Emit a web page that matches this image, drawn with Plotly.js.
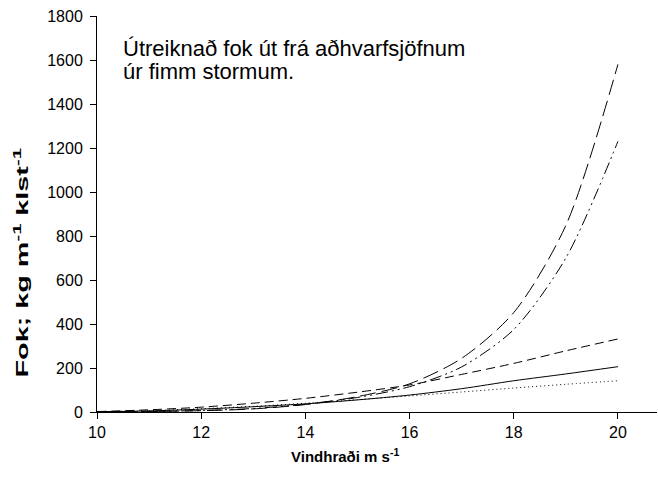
<!DOCTYPE html>
<html>
<head>
<meta charset="utf-8">
<script src="https://cdn.plot.ly/plotly-3.0.1.min.js"></script>
<style>
  html, body { margin: 0; padding: 0; background: #fff; }
  #chart { width: 658px; height: 479px; }
</style>
</head>
<body>
<div id="chart"></div>
<script>
// Wind speed (m/s)
const windSpeed = [10, 11, 12, 13, 14, 15, 16, 17, 18, 19, 20];

// Drift (kg m-1 h-1) from the regression equations of five storms
const stormLongDash   = [0.5, 2, 6, 14, 34, 70, 128, 244, 452, 848, 1580];
const stormDashDotDot = [0.5, 2, 7, 16, 35, 66, 115, 205, 375, 700, 1230];
const stormDash       = [2, 10, 22, 40, 62, 90, 123, 171, 221, 278, 332];
const stormSolid      = [1, 5, 13, 24, 37, 55, 77, 106, 142, 173, 206];
const stormDotted     = [1, 6, 15, 26, 40, 56, 73, 91, 109, 126, 142];

const xTicks = [10, 12, 14, 16, 18, 20];
const yTicks = [0, 200, 400, 600, 800, 1000, 1200, 1400, 1600, 1800];

function curve(y, dash) {
  return {
    x: windSpeed, y: y, type: 'scatter', mode: 'lines',
    line: { color: '#000', width: 1, dash: dash, shape: 'spline', smoothing: 0.8 },
    hoverinfo: 'skip'
  };
}

const data = [
  curve(stormDotted, '1px,3px'),
  curve(stormSolid, 'solid'),
  curve(stormDash, '9px,5px'),
  curve(stormDashDotDot, '12px,4px,2px,4px,2px,4px'),
  curve(stormLongDash, '16px,6px')
];

const font = 'Arial, "Liberation Sans", sans-serif';
const yTitleText = '<b>Fok; kg m<sup>-1</sup> klst<sup>-1</sup></b>';

const layout = {
  width: 658, height: 479,
  margin: { l: 97, r: 1, t: 16, b: 67 },
  paper_bgcolor: '#fff', plot_bgcolor: '#fff',
  showlegend: false,
  font: { family: font, color: '#000', size: 16 },
  xaxis: {
    range: [10, 20.75], tickvals: xTicks, ticktext: xTicks.map(String),
    showgrid: false, zeroline: false, showline: true, linecolor: '#000', linewidth: 1,
    ticks: 'outside', ticklen: 6, tickcolor: '#000', tickwidth: 1,
    tickfont: { family: font, size: 16, color: '#000' }
  },
  yaxis: {
    range: [0, 1800], tickvals: yTicks, ticktext: yTicks.map(String),
    showgrid: false, zeroline: false, showline: true, linecolor: '#000', linewidth: 1,
    ticks: 'outside', ticklen: 6, tickcolor: '#000', tickwidth: 1,
    ticklabelstandoff: 4,
    tickfont: { family: font, size: 16, color: '#000' }
  },
  annotations: [
    {
      xref: 'paper', yref: 'paper', x: 0.043, y: 0.9167,
      xanchor: 'left', yanchor: 'middle', align: 'left', showarrow: false,
      text: 'Útreiknað fok út frá aðhvarfsjöfnum',
      font: { family: font, size: 22, color: '#000' }
    },
    {
      xref: 'paper', yref: 'paper', x: 0.043, y: 0.8586,
      xanchor: 'left', yanchor: 'middle', align: 'left', showarrow: false,
      text: 'úr fimm stormum.',
      font: { family: font, size: 22, color: '#000' }
    },
    {
      xref: 'paper', yref: 'paper', x: 0.443, y: -0.11,
      xanchor: 'center', yanchor: 'middle', showarrow: false,
      text: '<b>Vindhraði m s<sup>-1</sup></b>',
      font: { family: font, size: 15, color: '#000' }
    },
    {
      xref: 'paper', yref: 'paper', x: -0.136, y: 0.377,
      xanchor: 'center', yanchor: 'middle', showarrow: false, textangle: -90,
      text: yTitleText,
      font: { family: font, size: 16, color: '#000' }
    }
  ]
};

// The vertical axis title is drawn stretched along its length.
const Y_TITLE_STRETCH = 1.8;

Plotly.newPlot('chart', data, layout, { staticPlot: true, displayModeBar: false }).then(gd => {
  gd.querySelectorAll('text.annotation-text').forEach(t => {
    if (!t.textContent.startsWith('Fok')) return;
    const b = t.getBBox();
    const cx = b.x + b.width / 2, cy = b.y + b.height / 2;
    t.setAttribute('transform',
      `translate(${cx},${cy}) scale(${Y_TITLE_STRETCH},1) translate(${-cx},${-cy})`);
  });
});
</script>
</body>
</html>
